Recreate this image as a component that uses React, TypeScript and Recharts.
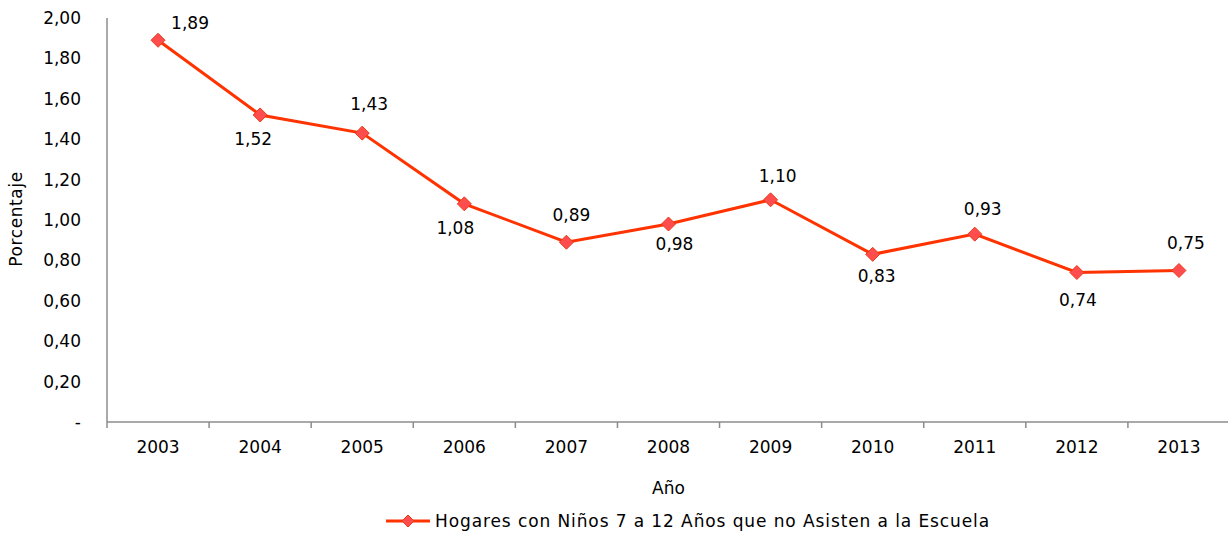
import React from 'react';
import { LineChart, Line, XAxis, YAxis, Legend, LabelList } from 'recharts';

const years = ['2003', '2004', '2005', '2006', '2007', '2008', '2009', '2010', '2011', '2012', '2013'];
const values = [1.89, 1.52, 1.43, 1.08, 0.89, 0.98, 1.1, 0.83, 0.93, 0.74, 0.75];
const yTicks = [0, 0.2, 0.4, 0.6, 0.8, 1.0, 1.2, 1.4, 1.6, 1.8, 2.0];
const seriesName = 'Hogares con Niños 7 a 12 Años que no Asisten a la Escuela';

const data = years.map((y, i) => ({ year: y, value: values[i] }));

// label placement offsets (dx, dy) relative to the point, for label centre
const labelOffsets: [number, number][] = [
  [32, -17], [-7, 24], [7, -29], [-9, 24], [5, -27], [6, 20], [7, -24], [4, 22], [8, -25], [1, 27], [7, -28],
];

const FONT = 'DejaVu Sans, Verdana, sans-serif';
const FS = 17;
const LINE = '#ff3300';
const MARK_FILL = '#ff4d4d';
const MARK_STROKE = '#e83a1a';
const AXIS = '#8c8c8c';

const fmt = (v: number) => (v === 0 ? '-' : v.toFixed(2).replace('.', ','));

const Diamond = (props: any) => {
  const { cx, cy } = props;
  if (cx == null || cy == null) return null;
  const r = 7;
  return (
    <path
      d={`M${cx},${cy - r} L${cx + r},${cy} L${cx},${cy + r} L${cx - r},${cy} Z`}
      fill={MARK_FILL}
      stroke={MARK_STROKE}
      strokeWidth={1}
    />
  );
};

const PLOT_LEFT = 107;
const PLOT_RIGHT = 1230;
const BAND = (PLOT_RIGHT - PLOT_LEFT) / years.length;

const XTick = (props: any) => {
  const { x, y, payload } = props;
  return (
    <g>
      <line x1={x - BAND / 2} y1={y - 8} x2={x - BAND / 2} y2={y - 2} stroke={AXIS} strokeWidth={1.5} />
      <text x={x} y={y + 23} textAnchor="middle" fontFamily={FONT} fontSize={FS} fill="#000">
        {payload.value}
      </text>
    </g>
  );
};

const YTick = (props: any) => {
  const { y, payload } = props;
  return (
    <text x={81} y={y + 6} textAnchor="end" fontFamily={FONT} fontSize={FS} fill="#000">
      {fmt(payload.value)}
    </text>
  );
};

const PointLabel = (props: any) => {
  const { x, y, value, index } = props;
  const [dx, dy] = labelOffsets[index] || [0, -20];
  return (
    <text x={x + dx} y={y + dy + 6} textAnchor="middle" fontFamily={FONT} fontSize={FS} fill="#000">
      {fmt(value)}
    </text>
  );
};

const YTitle = () => (
  <text
    x={16}
    y={219}
    transform="rotate(-90 16 219)"
    textAnchor="middle"
    dominantBaseline="central"
    fontFamily={FONT}
    fontSize={FS}
    letterSpacing={0.6}
    fill="#000"
  >
    Porcentaje
  </text>
);

const LegendContent = () => (
  <div style={{ display: 'flex', justifyContent: 'flex-start', alignItems: 'center', fontFamily: FONT, fontSize: FS, height: 30, paddingTop: 2, paddingLeft: 384 }}>
    <svg width={48} height={20} style={{ marginRight: 3 }}>
      <line x1={2} y1={10} x2={46} y2={10} stroke={LINE} strokeWidth={3} />
      <path d="M24,4 L30,10 L24,16 L18,10 Z" fill={MARK_FILL} stroke={MARK_STROKE} strokeWidth={1} />
    </svg>
    <span style={{ color: '#000', letterSpacing: 0.9, whiteSpace: 'nowrap' }}>{seriesName}</span>
  </div>
);

export default function App() {
  return (
    <div style={{ position: 'absolute', left: 0, top: 0, width: 1228, height: 534, background: '#fff', overflow: 'hidden' }}>
      <LineChart width={1230} height={534} data={data} margin={{ top: 18, right: 0, left: 0, bottom: 0 }}>
        <XAxis
          dataKey="year"
          stroke={AXIS}
          strokeWidth={1.5}
          tickLine={false}
          tick={<XTick />}
          height={82}
          interval={0}
          padding={{ left: BAND / 2, right: BAND / 2 }}
          label={{ value: 'Año', position: 'insideBottom', offset: 10, fontFamily: FONT, fontSize: FS, fill: '#000' }}
        />
        <YAxis
          domain={[0, 2]}
          ticks={yTicks}
          width={107}
          stroke={AXIS}
          strokeWidth={1.5}
          tickLine={false}
          tick={<YTick />}
          interval={0}
          label={<YTitle />}
        />
        <Legend verticalAlign="bottom" height={30} content={<LegendContent />} />
        <Line
          type="linear"
          dataKey="value"
          name={seriesName}
          stroke={LINE}
          strokeWidth={3}
          dot={<Diamond />}
          activeDot={false}
          isAnimationActive={false}
        >
          <LabelList dataKey="value" content={<PointLabel />} />
        </Line>
      </LineChart>
    </div>
  );
}
